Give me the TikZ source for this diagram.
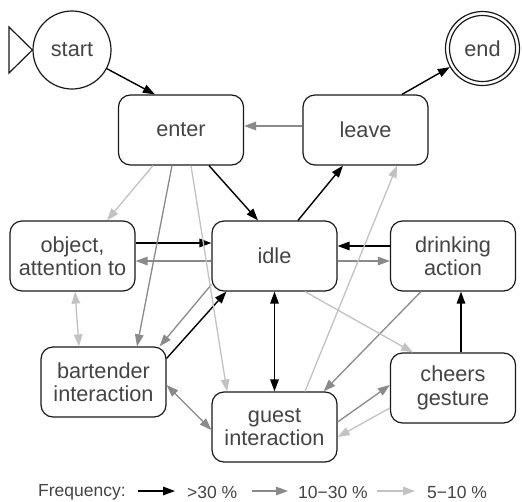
\documentclass[tikz,border=0pt]{standalone}
\usepackage{fontspec}
\setmainfont{Liberation Sans}
\usetikzlibrary{arrows.meta,calc}
\definecolor{txt}{HTML}{444444}
\definecolor{midg}{HTML}{8A8A8A}
\definecolor{lightg}{HTML}{C2C2C2}
\begin{document}
\begin{tikzpicture}[x=1pt,y=-1pt,
  state/.style={draw=black!90,line width=1.2pt,rounded corners=12pt,minimum width=125pt,minimum height=70pt,align=center,text=txt,font=\fontsize{21.7}{23.5}\selectfont,inner sep=2pt},
  circ/.style={draw=black!90,line width=1.2pt,circle,text=txt,font=\fontsize{21.7}{23.5}\selectfont,inner sep=0pt},
  tipA/.style={-{Triangle[length=12pt,width=8.5pt]}},
  tipB/.style={{Triangle[length=12pt,width=8.5pt]}-{Triangle[length=12pt,width=8.5pt]}},
  hi/.style={draw=black,line width=1.4pt},
  mid/.style={draw=midg,fill=midg,line width=1.3pt},
  low/.style={draw=lightg,fill=lightg,line width=1.3pt},
  leg/.style={text=txt,font=\fontsize{17.5}{19}\selectfont,anchor=west,inner sep=0pt}
]
\useasboundingbox (0,0) rectangle (522,501);

% nodes
\node[circ,minimum size=78pt] (start) at (72,50) {start};
\node[circ,minimum size=74pt] (end) at (482.5,48.5) {end};
\draw[black!90,line width=1.2pt] (end.center) circle (33pt);
\coordinate (tri1) at (9,27);
\coordinate (tri2) at (9,73);
\draw[black!90,line width=1.2pt,line join=miter] (tri1) -- (start.west) -- (tri2) -- cycle;

\node[state] (enter) at (181,130) {enter};
\node[state] (leave) at (365.5,130) {leave};
\node[state] (object) at (72.5,256) {object,\\attention to};
\node[state] (idle) at (274.5,256) {idle};
\node[state] (drinking) at (453,256) {drinking\\action};
\node[state] (bartender) at (103.5,382) {bartender\\interaction};
\node[state] (guest) at (274.5,427) {guest\\interaction};
\node[state] (cheers) at (453,388) {cheers\\gesture};

% >30 % (black)
\draw[hi,tipA] (start) -- ($(enter.north west)+(37,0)$);
\draw[hi,tipA] ($(enter.south)+(28,0)$) -- ($(idle.north)+(-16.5,0)$);
\draw[hi,tipA] ($(idle.north)+(23.5,0)$) -- ($(leave.south)+(-22.5,0)$);
\draw[hi,tipA] ($(leave.north)+(36.5,0)$) -- (end);
\draw[hi,tipA] ($(object.east)+(0,-13)$) -- ($(idle.west)+(0,-13)$);
\draw[hi,tipA] ($(drinking.west)+(0,-10)$) -- ($(idle.east)+(0,-10)$);
\draw[hi,tipA] ($(bartender.north east)+(0,12)$) -- ($(idle.south west)+(15,0)$);
\draw[hi,tipB] (idle.south) -- (guest.north);
\draw[hi,tipA] ($(cheers.north)+(8,0)$) -- ($(drinking.south)+(8,0)$);

% 10-30 % (mid gray)
\draw[mid,tipA] ($(enter.south)+(-9,0)$) -- ($(bartender.north)+(33.5,0)$);
\draw[mid,tipA] ($(idle.west)+(0,5)$) -- ($(object.east)+(0,5)$);
\draw[mid,tipA] ($(idle.south west)+(0,-7)$) -- ($(bartender.north east)+(-7,0)$);
\draw[mid,tipA] ($(idle.east)+(0,5)$) -- ($(drinking.west)+(0,5)$);
\draw[mid,tipA] ($(drinking.south)+(-32,0)$) -- ($(guest.north east)+(-14,0)$);
\draw[mid,tipB] ($(bartender.east)+(0,3)$) -- ($(guest.west)+(0,3)$);
\draw[mid,tipA] ($(guest.east)+(0,-5)$) -- ($(cheers.west)+(0,-3)$);
\draw[mid,tipA] ($(leave.west)+(0,-4)$) -- ($(enter.east)+(0,-4)$);

% 5-10 % (light gray)
\draw[low,tipA] ($(enter.south)+(-28,0)$) -- ($(object.north)+(34.5,0)$);
\draw[low,tipA] ($(enter.south)+(10,0)$) -- ($(guest.north)+(-47.5,0)$);
\draw[low,tipB] ($(object.south)+(2.5,0)$) -- ($(bartender.north)+(-24.5,0)$);
\draw[low,tipA] ($(guest.north)+(30.5,0)$) -- ($(leave.south)+(31.5,0)$);
\draw[low,tipA] ($(idle.south)+(30.5,0)$) -- ($(cheers.north)+(-40,0)$);
\draw[low,tipA] ($(cheers.west)+(0,20)$) -- ($(guest.east)+(0,10)$);

% legend
\node[leg] (freq) at (38,492) {Frequency:};
\coordinate (la1) at (138,491);
\coordinate (la2) at (175,491);
\draw[hi,tipA] (la1) -- (la2);
\node[leg] (l1) at (187,492) {>30 \%};
\coordinate (lb1) at (252,491);
\coordinate (lb2) at (288,491);
\draw[mid,tipA] (lb1) -- (lb2);
\node[leg] (l2) at (298,492) {10−30 \%};
\coordinate (lc1) at (377,491);
\coordinate (lc2) at (415,491);
\draw[low,tipA] (lc1) -- (lc2);
\node[leg] (l3) at (427,492) {5−10 \%};
\end{tikzpicture}
\end{document}
